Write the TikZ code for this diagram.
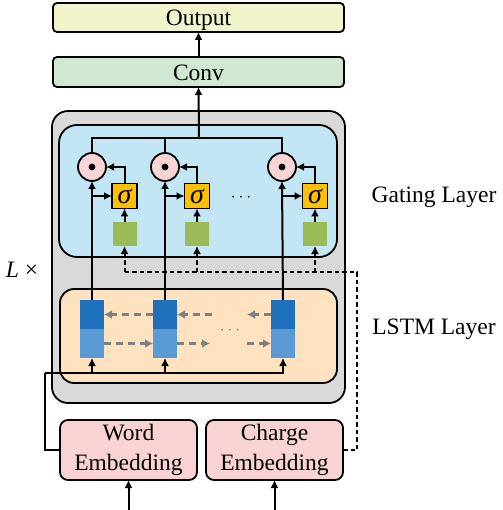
\documentclass[tikz,border=0pt]{standalone}
\usepackage{fontspec}
\setmainfont{Liberation Serif}
\newfontfamily\tnr{Liberation Serif}
\usetikzlibrary{arrows.meta,calc}
\definecolor{outc}{HTML}{F4F4CC}
\definecolor{convc}{HTML}{D0E7D1}
\definecolor{grayc}{HTML}{D9D9D9}
\definecolor{bluec}{HTML}{C3E6F5}
\definecolor{lstmc}{HTML}{FFE3C0}
\definecolor{embc}{HTML}{F9D3D4}
\definecolor{circc}{HTML}{F8D4D4}
\definecolor{sigc}{HTML}{FFC000}
\definecolor{grnc}{HTML}{9BBB59}
\definecolor{darkc}{HTML}{1F70BA}
\definecolor{lightc}{HTML}{5B9BD5}
\definecolor{arrg}{HTML}{808080}
\begin{document}
\begin{tikzpicture}[x=1pt,y=-1pt,
  every node/.style={inner sep=0pt,outer sep=0pt},
  bx/.style={draw=black,line width=1.8pt,anchor=center},
  lbl/.style={font=\tnr\fontsize{23.5}{27}\selectfont},
  one/.style={text height=17pt,text depth=0pt},
  con/.style={line width=2pt,-{Latex[length=8pt,width=8pt]}},
  ln/.style={line width=2pt},
  dsh/.style={line width=2pt,dash pattern=on 4.5pt off 3pt},
  gdsh/.style={line width=2.2pt,draw=arrg,dash pattern=on 7pt off 5pt,-{Latex[length=8pt,width=9pt]}},
  circ/.style={circle,draw=black,line width=1.8pt,fill=circc,minimum size=28pt},
  sig/.style={draw=black,line width=1.8pt,fill=sigc,minimum size=25pt,font=\tnr\fontsize{28}{28}\selectfont\itshape},
  grn/.style={fill=grnc,minimum size=24pt},
  celltop/.style={fill=darkc,minimum width=24pt,minimum height=29pt},
  cellbot/.style={fill=lightc,minimum width=24pt,minimum height=29pt}
]
\useasboundingbox (0,0) rectangle (502,510);
% boxes
\node[bx,fill=outc,rounded corners=4pt,minimum width=291pt,minimum height=29pt,lbl,one] (out) at (198.5,17.5) {Output};
\node[bx,fill=convc,rounded corners=4pt,minimum width=291pt,minimum height=30pt,lbl,one] (conv) at (198.5,72) {Conv};
\node[bx,fill=grayc,rounded corners=16pt,minimum width=293pt,minimum height=292pt] (gray) at (198.5,257) {};
\node[bx,fill=bluec,rounded corners=18pt,minimum width=278pt,minimum height=132pt] (blue) at (198,191) {};
\node[bx,fill=lstmc,rounded corners=14pt,minimum width=277pt,minimum height=94pt] (lstm) at (198.5,336) {};
\node[bx,fill=embc,rounded corners=8pt,minimum width=137pt,minimum height=60pt,lbl,align=center] (word) at (128.5,450) {\raisebox{-3pt}{Word}\\[3pt]\raisebox{-3pt}{Embedding}};
\node[bx,fill=embc,rounded corners=8pt,minimum width=137pt,minimum height=60pt,lbl,align=center] (charge) at (274.5,450) {\raisebox{-3pt}{Charge}\\[3pt]\raisebox{-3pt}{Embedding}};
% labels
\node[lbl] (glab) at (434,197) {Gating Layer};
\node[lbl] (llab) at (434,329) {LSTM Layer};
\node[lbl] (lx) at (22,270) {\textit{L} ×};
% gating elements
\foreach \i/\cx/\sx in {1/92/124.5,2/165/197,3/282/315}{
  \node[circ] (c\i) at (\cx,167) {};
  \fill (c\i.center) circle (3.4pt);
  \node[sig] (s\i) at (\sx,196) {σ};
  \node[grn] (g\i) at (\sx,234) {};
}
\node[font=\fontsize{18}{18}\selectfont] (gd) at (241,198) {$\cdots$};
% lstm cells
\foreach \i/\cx in {1/92,2/165,3/283}{
  \node[celltop] (t\i) at (\cx,314.5) {};
  \node[cellbot] (b\i) at (\cx,343.5) {};
}
\node[font=\fontsize{16}{16}\selectfont,text=arrg] (ld) at (230,331) {$\cdots$};
% coordinates
\coordinate (bus) at (199,138);
\coordinate (dl) at (124.5,272);
\coordinate (dr) at (357,272);
\coordinate (il) at (45,373);
\coordinate (u1) at (212,314.5);
\coordinate (u3) at (247,314.5);
\coordinate (w2) at (210,343.5);
\coordinate (w3) at (247,343.5);
\coordinate (in1) at (128.5,510);
\coordinate (in2) at (274.5,510);
% top connectors
\draw[con] (conv.north) -- (out.south);
\draw[con] (bus) -- (conv.south);
\draw[ln] (c1.north) |- (bus) -| (c3.north);
\draw[ln] (c2.north) -- (c2.north |- bus);
% gating connectors
\foreach \i in {1,2,3}{
  \draw[con] (t\i.north) -- (c\i.south);
  \draw[con] (t\i.north |- s\i.west) -- (s\i.west);
  \draw[con] (s\i.north) |- (c\i.east);
  \draw[con] (g\i.north) -- (s\i.south);
}
% dashed charge path
\draw[dsh] (charge.east) -| (dr) -- (dl);
\foreach \i in {1,2,3}{
  \draw[dsh,-{Latex[length=8pt,width=8pt]}] (g\i.south |- dl) -- (g\i.south);
}
% lstm recurrent arrows
\draw[gdsh] (t2.west) -- (t1.east);
\draw[gdsh] (u1) -- (t2.east);
\draw[gdsh] (t3.west) -- (u3);
\draw[gdsh] (b1.east) -- (b2.west);
\draw[gdsh] (b2.east) -- (w2);
\draw[gdsh] (w3) -- (b3.west);
% input bus
\draw[ln] (word.west) -| (il);
\draw[con] (il) -| (b3.south);
\draw[con] (b1.south |- il) -- (b1.south);
\draw[con] (b2.south |- il) -- (b2.south);
% bottom inputs
\draw[con] (in1) -- (word.south);
\draw[con] (in2) -- (charge.south);
\end{tikzpicture}
\end{document}
